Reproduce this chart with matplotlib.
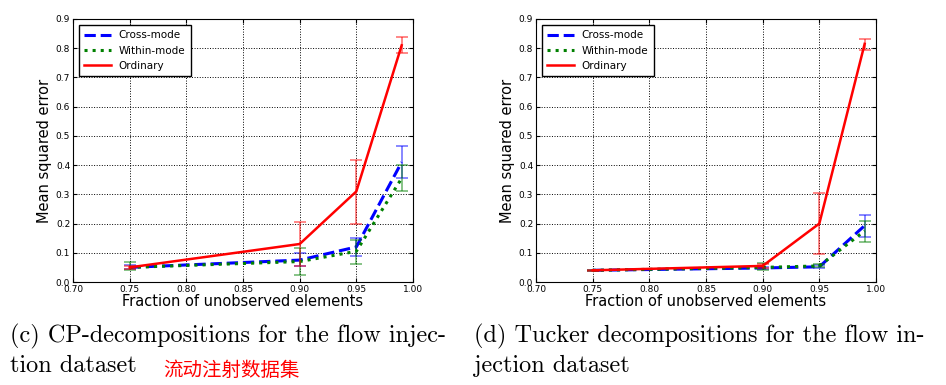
import matplotlib
matplotlib.use("Agg")
import matplotlib.pyplot as plt
from matplotlib.ticker import FormatStrFormatter

# fraction of unobserved elements
x = [0.75, 0.90, 0.95, 0.99]

# (c) CP-decompositions
cp_cross = [0.050, 0.075, 0.120, 0.410]
cp_cross_lo = [0.045, 0.055, 0.090, 0.355]
cp_cross_hi = [0.058, 0.100, 0.150, 0.465]
cp_within = [0.050, 0.070, 0.105, 0.355]
cp_within_lo = [0.040, 0.025, 0.062, 0.310]
cp_within_hi = [0.067, 0.118, 0.145, 0.400]
cp_ord = [0.050, 0.130, 0.310, 0.810]
cp_ord_lo = [0.045, 0.055, 0.200, 0.782]
cp_ord_hi = [0.055, 0.205, 0.418, 0.837]

# (d) Tucker decompositions
tk_cross = [0.040, 0.048, 0.052, 0.193]
tk_cross_lo = [0.038, 0.045, 0.048, 0.155]
tk_cross_hi = [0.042, 0.052, 0.057, 0.230]
tk_within = [0.040, 0.050, 0.055, 0.175]
tk_within_lo = [0.038, 0.042, 0.050, 0.138]
tk_within_hi = [0.042, 0.065, 0.062, 0.210]
tk_ord = [0.040, 0.055, 0.200, 0.815]
tk_ord_lo = [0.038, 0.048, 0.095, 0.795]
tk_ord_hi = [0.042, 0.062, 0.305, 0.833]

labels = ["Cross-mode", "Within-mode", "Ordinary"]
colors = ["#0000ff", "#008000", "#ff0000"]
styles = ["--", ":", "-"]
captions = [("(c) CP-decompositions for the flow injec-", "tion dataset"),
            ("(d) Tucker decompositions for the flow in-", "jection dataset")]


def draw(ax, series):
    for (y, lo, hi), lab, c, ls in zip(series, labels, colors, styles):
        err = [[v - l for v, l in zip(y, lo)], [h - v for v, h in zip(y, hi)]]
        ax.errorbar(x, y, yerr=err, fmt="none", ecolor=c, alpha=0.55,
                    capsize=4, elinewidth=1.2, capthick=1.2)
        ax.plot(x, y, ls, color=c, lw=2.2 if ls != "-" else 1.8, label=lab)
    ax.set_xlim(0.70, 1.00)
    ax.set_ylim(0.0, 0.9)
    ax.set_xticks([0.70, 0.75, 0.80, 0.85, 0.90, 0.95, 1.00])
    ax.set_yticks([i / 10 for i in range(10)])
    ax.xaxis.set_major_formatter(FormatStrFormatter("%.2f"))
    ax.yaxis.set_major_formatter(FormatStrFormatter("%.1f"))
    ax.tick_params(direction="in", top=True, right=True, labelsize=6.5,
                   length=3, pad=2)
    ax.grid(True, color="black", linestyle=":", linewidth=0.7)
    ax.set_xlabel("Fraction of unobserved elements", fontsize=10.5, labelpad=0)
    ax.set_ylabel("Mean squared error", fontsize=10.5, labelpad=3)
    leg = ax.legend(loc="upper left", fontsize=7.5, fancybox=False,
                    framealpha=1, borderpad=0.5, handlelength=2.5,
                    borderaxespad=0.6)
    leg.get_frame().set_edgecolor("black")


fig = plt.figure(figsize=(9.46, 3.85), dpi=100)
ax1 = fig.add_axes([73 / 946, 1 - 282 / 385, 340 / 946, 263 / 385])
ax2 = fig.add_axes([536 / 946, 1 - 282 / 385, 340 / 946, 263 / 385])

draw(ax1, [(cp_cross, cp_cross_lo, cp_cross_hi),
           (cp_within, cp_within_lo, cp_within_hi),
           (cp_ord, cp_ord_lo, cp_ord_hi)])
draw(ax2, [(tk_cross, tk_cross_lo, tk_cross_hi),
           (tk_within, tk_within_lo, tk_within_hi),
           (tk_ord, tk_ord_lo, tk_ord_hi)])

for x0, (line1, line2) in zip([10, 474], captions):
    fig.text(x0 / 946, 1 - 342 / 385, line1, family="cmr10", fontsize=17.5,
             va="baseline", ha="left")
    fig.text(x0 / 946, 1 - 372 / 385, line2, family="cmr10", fontsize=17.5,
             va="baseline", ha="left")
fig.text(163 / 946, 1 - 370 / 385, "流动注射数据集", family="Noto Sans CJK SC",
         fontsize=14, color="red", va="center", ha="left")

fig.savefig("out.png", dpi=100)
